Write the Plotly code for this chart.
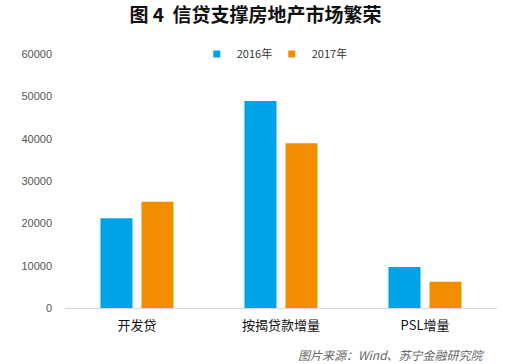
import plotly.graph_objects as go

categories = ["开发贷", "按揭贷款增量", "PSL增量"]
values_2016 = [21200, 48900, 9700]
values_2017 = [25100, 38900, 6200]
series_names = ["2016年", "2017年"]
y_ticks = [0, 10000, 20000, 30000, 40000, 50000, 60000]
colors = ["#00A3E6", "#F18D00"]

font_cjk = "Noto Sans CJK SC"

fig = go.Figure()
for name, vals, col in zip(series_names, [values_2016, values_2017], colors):
    fig.add_trace(go.Bar(x=categories, y=vals, name=name, showlegend=False,
                         marker=dict(color=col, line=dict(width=0))))
# legend-only entries with small square markers
for name, col in zip(series_names, colors):
    fig.add_trace(go.Scatter(x=[None], y=[None], mode="markers", name=name,
                             marker=dict(symbol="square", size=7, color=col)))

fig.update_layout(
    width=511, height=364,
    paper_bgcolor="white", plot_bgcolor="white",
    margin=dict(l=65, r=14, t=54, b=56),
    barmode="group", bargap=0.43, bargroupgap=0.22,
    title=dict(text="<b>图 4  信贷支撑房地产市场繁荣</b>", x=0.5, xanchor="center",
               y=0.958, yanchor="middle",
               font=dict(family=font_cjk, size=19, color="#111111")),
    legend=dict(orientation="h", x=0.305, xanchor="left", y=1.0, yanchor="middle",
                font=dict(family=font_cjk, size=11, color="#333333"),
                itemwidth=30, entrywidth=30, entrywidthmode="pixels",
                bgcolor="rgba(0,0,0,0)", tracegroupgap=0),
    font=dict(family=font_cjk),
)
fig.update_xaxes(showgrid=False, showline=True, linecolor="#D9D9D9", linewidth=1,
                 tickfont=dict(family=font_cjk, size=13, color="#111111"),
                 ticks="", ticklabelstandoff=5)
fig.update_yaxes(range=[0, 60000], tickvals=y_ticks, tickformat="d", showgrid=False,
                 zeroline=False, showline=False, ticks="", ticklabelstandoff=12,
                 tickfont=dict(family="Liberation Sans", size=11, color="#555555"))

fig.add_annotation(text="<i>图片来源：Wind、苏宁金融研究院</i>", xref="paper", yref="paper",
                   x=0.977, xanchor="right", y=-0.185, yanchor="middle", showarrow=False,
                   font=dict(family=font_cjk, size=12, color="#666666"))

fig.write_html("out.html", config={"displayModeBar": False},
               post_script="document.body.style.margin='0';document.body.style.padding='0';")
